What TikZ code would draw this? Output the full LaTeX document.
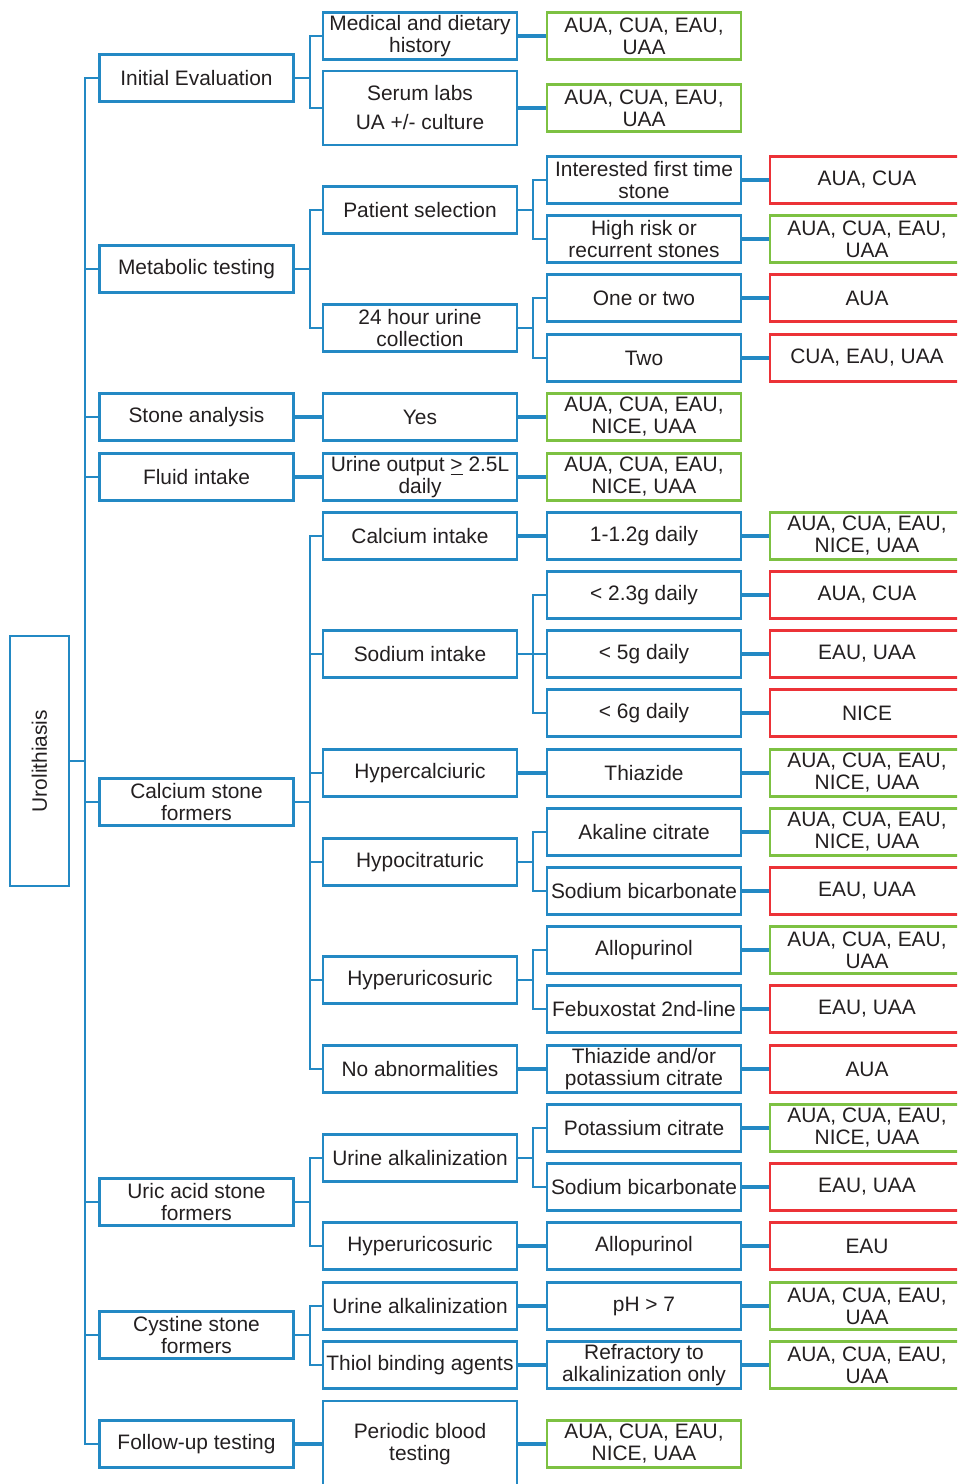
\documentclass[tikz,border=0pt]{standalone}
\usepackage{fontspec}
\setmainfont{Liberation Sans}
\definecolor{lblue}{HTML}{2389C4}
\definecolor{lgreen}{HTML}{7DC142}
\definecolor{lred}{HTML}{EC3237}
\definecolor{txt}{HTML}{231F20}
\newcommand{\allfour}{AUA, CUA, EAU,\\UAA}
\newcommand{\allfive}{AUA, CUA, EAU,\\NICE, UAA}
\tikzset{
  box/.style={draw=lblue,line width=1.4pt,minimum width=3.88cm,minimum height=0.94cm,
    align=center,inner sep=1pt,text=txt,font=\fontsize{11.9}{12.5}\selectfont},
  gbox/.style={box,draw=lgreen},
  rbox/.style={box,draw=lred},
  link/.style={draw=lblue,line width=1.3pt},
  tie/.style={draw=lblue,line width=1.8pt},
}
\begin{document}
\begin{tikzpicture}[x=0.02cm,y=-0.02cm]
\clip (0,0) rectangle (957,1484);
%% root (rotated, so its right side is .south)
\node[box,rotate=90,minimum width=5cm,minimum height=1.18cm] (uro) at (39.5,761) {Urolithiasis};
%% first level
\node[box] (ie) at (196.5,78) {Initial Evaluation};
\node[box] (mt) at (196.5,269) {Metabolic testing};
\node[box] (sa) at (196.5,417) {Stone analysis};
\node[box] (fi) at (196.5,477) {Fluid intake};
\node[box] (csf) at (196.5,802) {Calcium stone\\formers};
\node[box] (uasf) at (196.5,1202) {Uric acid stone\\formers};
\node[box] (cysf) at (196.5,1335) {Cystine stone\\formers};
\node[box] (fu) at (196.5,1444) {Follow-up testing};
\foreach \n in {ie,mt,sa,fi,csf,uasf,cysf,fu}
  \draw[link] (uro.south) -- ++(15,0) |- (\n.west);
%% second level
\node[box] (mdh) at (420,36) {Medical and dietary\\history};
\node[box,minimum height=1.48cm] (sl) at (420,108) {Serum labs\\[4pt]UA +/- culture};
\node[box] (ps) at (420,210) {Patient selection};
\node[box] (huc) at (420,328) {24 hour urine\\collection};
\node[box] (yes) at (420,417) {Yes};
\node[box] (uo) at (420,477) {Urine output \underline{>} 2.5L\\daily};
\node[box] (ci) at (420,536) {Calcium intake};
\node[box] (si) at (420,654) {Sodium intake};
\node[box] (hcc) at (420,773) {Hypercalciuric};
\node[box] (hct) at (420,862) {Hypocitraturic};
\node[box] (hur) at (420,980) {Hyperuricosuric};
\node[box] (nab) at (420,1069) {No abnormalities};
\node[box] (ual) at (420,1158) {Urine alkalinization};
\node[box] (hur2) at (420,1246) {Hyperuricosuric};
\node[box] (ual2) at (420,1306) {Urine alkalinization};
\node[box] (tba) at (420,1365) {Thiol binding agents};
\node[box,minimum height=1.72cm] (pbt) at (420,1444) {Periodic blood\\testing};
\foreach \p/\c in {ie/mdh,ie/sl,mt/ps,mt/huc,csf/ci,csf/si,csf/hcc,csf/hct,csf/hur,csf/nab,
    uasf/ual,uasf/hur2,cysf/ual2,cysf/tba}
  \draw[link] (\p.east) -- ++(15,0) |- (\c.west);
\foreach \p/\c in {sa/yes,fi/uo,fu/pbt}
  \draw[tie] (\p.east) -- (\c.west);
%% third level
\node[gbox] (mdhg) at (644,36) {\allfour};
\node[gbox] (slg) at (644,108) {\allfour};
\node[box] (ifs) at (644,180) {Interested first time\\stone};
\node[box] (hrr) at (644,239) {High risk or\\recurrent stones};
\node[box] (oot) at (644,298) {One or two};
\node[box] (two) at (644,358) {Two};
\node[gbox] (yesg) at (644,417) {\allfive};
\node[gbox] (uog) at (644,477) {\allfive};
\node[box] (cid) at (644,536) {1-1.2g daily};
\node[box] (sia) at (644,595) {< 2.3g daily};
\node[box] (sib) at (644,654) {< 5g daily};
\node[box] (sic) at (644,713) {< 6g daily};
\node[box] (thz) at (644,773) {Thiazide};
\node[box] (akc) at (644,832) {Akaline citrate};
\node[box] (sbc) at (644,891) {Sodium bicarbonate};
\node[box] (allo) at (644,950) {Allopurinol};
\node[box] (feb) at (644,1009) {Febuxostat 2nd-line};
\node[box] (tpc) at (644,1069) {Thiazide and/or\\potassium citrate};
\node[box] (pct) at (644,1128) {Potassium citrate};
\node[box] (sbc2) at (644,1187) {Sodium bicarbonate};
\node[box] (allo2) at (644,1246) {Allopurinol};
\node[box] (ph) at (644,1306) {pH > 7};
\node[box] (rta) at (644,1365) {Refractory to\\alkalinization only};
\node[gbox] (pbtg) at (644,1444) {\allfive};
\foreach \p/\c in {ps/ifs,ps/hrr,huc/oot,huc/two,si/sia,si/sib,si/sic,hct/akc,hct/sbc,
    hur/allo,hur/feb,ual/pct,ual/sbc2}
  \draw[link] (\p.east) -- ++(15,0) |- (\c.west);
\foreach \p/\c in {mdh/mdhg,sl/slg,yes/yesg,uo/uog,ci/cid,hcc/thz,nab/tpc,hur2/allo2,
    ual2/ph,tba/rta,pbt/pbtg}
  \draw[tie] (\p.east) -- (\c.west);
%% guidelines
\node[rbox] (ifsr) at (867,180) {AUA, CUA};
\node[gbox] (hrrg) at (867,239) {\allfour};
\node[rbox] (ootr) at (867,298) {AUA};
\node[rbox] (twor) at (867,358) {CUA, EAU, UAA};
\node[gbox] (cidg) at (867,536) {\allfive};
\node[rbox] (siar) at (867,595) {AUA, CUA};
\node[rbox] (sibr) at (867,654) {EAU, UAA};
\node[rbox] (sicr) at (867,713) {NICE};
\node[gbox] (thzg) at (867,773) {\allfive};
\node[gbox] (akcg) at (867,832) {\allfive};
\node[rbox] (sbcr) at (867,891) {EAU, UAA};
\node[gbox] (allog) at (867,950) {\allfour};
\node[rbox] (febr) at (867,1009) {EAU, UAA};
\node[rbox] (tpcr) at (867,1069) {AUA};
\node[gbox] (pctg) at (867,1128) {\allfive};
\node[rbox] (sbc2r) at (867,1187) {EAU, UAA};
\node[rbox] (allo2r) at (867,1246) {EAU};
\node[gbox] (phg) at (867,1306) {\allfour};
\node[gbox] (rtag) at (867,1365) {\allfour};
\foreach \p/\c in {ifs/ifsr,hrr/hrrg,oot/ootr,two/twor,cid/cidg,sia/siar,sib/sibr,sic/sicr,
    thz/thzg,akc/akcg,sbc/sbcr,allo/allog,feb/febr,tpc/tpcr,pct/pctg,sbc2/sbc2r,allo2/allo2r,
    ph/phg,rta/rtag}
  \draw[tie] (\p.east) -- (\c.west);
\end{tikzpicture}
\end{document}
